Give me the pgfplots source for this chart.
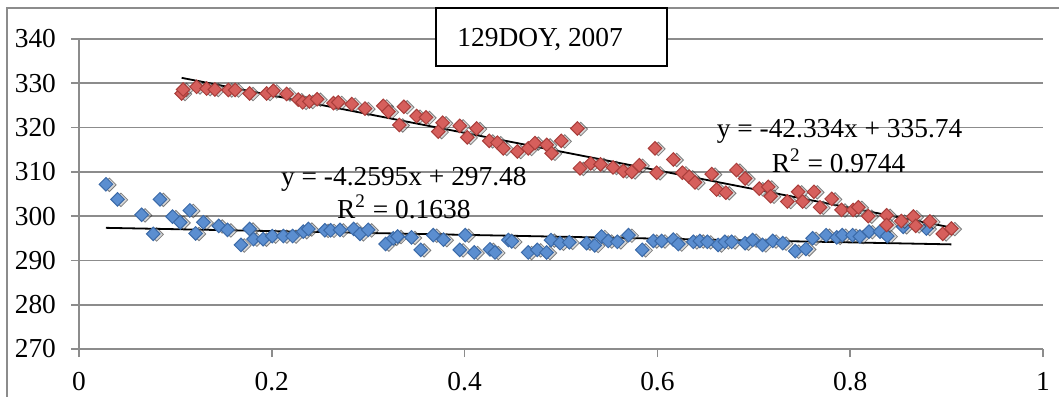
\documentclass[border=0pt]{standalone}
\usepackage{fontspec}
\setmainfont{Liberation Serif}
\usepackage{pgfplots}
\pgfplotsset{compat=1.18}
\definecolor{bluefill}{HTML}{5B8ED0}
\definecolor{blueedge}{HTML}{3B6AA8}
\definecolor{redfill}{HTML}{D65F5C}
\definecolor{rededge}{HTML}{A93D3A}
\definecolor{gridgray}{HTML}{8C8C8C}
\pgfplotstableread{
x y
0.028 307.2
0.040 303.8
0.065 300.3
0.077 296.0
0.084 303.8
0.097 299.9
0.105 298.6
0.115 301.3
0.121 296.1
0.129 298.6
0.145 297.8
0.154 296.9
0.168 293.5
0.177 297.1
0.181 294.8
0.191 294.8
0.2005 295.5
0.212 295.5
0.2216 295.5
0.2327 296.5
0.238 297.1
0.255 296.8
0.261 296.8
0.2707 296.9
0.285 297.1
0.2915 296.0
0.300 296.9
0.318 293.7
0.326 295.0
0.3305 295.4
0.345 295.2
0.3545 292.4
0.3675 295.7
0.378 294.7
0.395 292.4
0.4007 295.7
0.410 291.8
0.4263 292.5
0.4315 291.8
0.4454 294.6
0.449 294.3
0.466 291.8
0.4754 292.4
0.485 291.8
0.4896 294.6
0.499 293.9
0.5086 294.1
0.5266 293.9
0.535 293.4
0.542 295.4
0.549 294.4
0.5585 294.2
0.570 295.7
0.5843 292.4
0.5958 294.4
0.6044 294.4
0.6165 294.7
0.6217 293.7
0.6373 294.2
0.644 294.4
0.6518 294.2
0.663 293.5
0.670 294.2
0.677 294.2
0.691 293.9
0.6988 294.6
0.709 293.5
0.7196 294.4
0.730 293.9
0.743 292.1
0.754 292.6
0.761 295.0
0.775 295.7
0.786 295.2
0.7918 295.7
0.8025 295.7
0.810 295.4
0.8195 296.5
0.831 296.5
0.8385 295.5
0.855 297.6
0.879 297.2
}\bluedata
\pgfplotstableread{
x y
0.1065 327.7
0.108 328.6
0.122 329.2
0.1324 328.8
0.141 328.6
0.155 328.5
0.162 328.5
0.177 327.7
0.1947 327.7
0.2016 328.3
0.2154 327.6
0.2275 326.3
0.232 325.7
0.239 325.9
0.247 326.4
0.264 325.5
0.269 325.7
0.283 325.3
0.2967 324.3
0.3157 324.9
0.321 323.6
0.3323 320.6
0.337 324.7
0.3502 322.6
0.360 322.3
0.3727 319.1
0.3772 321.1
0.395 320.4
0.4028 317.8
0.4125 319.8
0.4256 317.0
0.434 316.6
0.4402 315.3
0.4547 314.6
0.466 315.3
0.473 316.5
0.4852 316.1
0.4903 314.2
0.5003 317.0
0.517 319.8
0.5197 310.8
0.5308 311.9
0.541 311.7
0.554 311.0
0.5646 310.2
0.5733 310.0
0.5812 311.5
0.5975 315.3
0.5993 309.8
0.6165 312.8
0.626 309.8
0.633 308.9
0.639 307.6
0.6563 309.5
0.6614 306.0
0.671 305.3
0.682 310.4
0.691 308.5
0.7057 306.2
0.715 306.6
0.7175 304.5
0.7348 303.3
0.746 305.5
0.7507 303.3
0.7624 305.5
0.7687 302.0
0.7808 303.9
0.791 301.4
0.803 301.4
0.8085 302.0
0.8188 300.0
0.8378 300.2
0.8378 298.0
0.853 298.9
0.8655 299.9
0.868 297.8
0.8827 298.8
0.896 296.0
0.905 297.2
}\reddata
\begin{document}
\begin{tikzpicture}
\useasboundingbox (-39.5pt,-23.5pt) rectangle (490pt,174.5pt);
% outer chart frame
\draw[gridgray, line width=0.8pt] (-36pt,-26pt) rectangle (493pt,170.5pt);
\begin{axis}[
  scale only axis, width=482pt, height=155pt,
  xmin=0, xmax=1, ymin=270, ymax=340,
  xtick={0,0.2,0.4,0.6,0.8,1},
  ytick={270,280,290,300,310,320,330,340},
  axis lines*=left,
  axis line style={gridgray, line width=0.8pt},
  ymajorgrids, grid style={gridgray, line width=0.8pt},
  tick style={gridgray, line width=0.8pt},
  tick align=outside, major tick length=4pt,
  /pgf/number format/assume math mode=true,
  tick label style={font=\fontsize{13.7}{16}\selectfont},
  yticklabel style={xshift=-4pt},
  xticklabel style={yshift=-4pt},
  clip=false,
]
% soft shadows under the markers
\pgfplotsset{shadow/.style={only marks, mark=square*, mark size=2.4pt,
  mark options={rotate=45, xshift=1pt, yshift=-1.4pt, fill=black!35, draw=none, opacity=0.45}}}
\addplot[shadow] table {\bluedata};
\addplot[only marks, mark=square*, mark size=2.4pt,
  mark options={rotate=45, fill=bluefill, draw=blueedge, line width=0.5pt}] table {\bluedata};
\addplot[shadow] table {\reddata};
\addplot[only marks, mark=square*, mark size=2.4pt,
  mark options={rotate=45, fill=redfill, draw=rededge, line width=0.5pt}] table {\reddata};
% linear trendlines: y = -4.2595x + 297.48 and y = -42.334x + 335.74
\addplot[black, line width=0.9pt] coordinates {(0.028,297.361) (0.905,293.625)};
\addplot[black, line width=0.9pt] coordinates {(0.1065,331.231) (0.905,297.428)};
\node[font=\fontsize{13.7}{16}\selectfont] at (axis cs:0.337,308.4) {y = -4.2595x + 297.48};
\node[font=\fontsize{13.7}{16}\selectfont] at (axis cs:0.337,302.1) {R\textsuperscript{2} = 0.1638};
\node[font=\fontsize{13.7}{16}\selectfont] at (axis cs:0.789,319.2) {y = -42.334x + 335.74};
\node[font=\fontsize{13.7}{16}\selectfont] at (axis cs:0.788,312.45) {R\textsuperscript{2} = 0.9744};
\end{axis}
% title box
\draw[black, fill=white, line width=0.8pt] (178.5pt,141.5pt) rectangle (294pt,170.5pt);
\node[anchor=west, inner sep=0pt, font=\fontsize{13.7}{16}\selectfont] at (189pt,154.5pt) {129DOY, 2007};
\end{tikzpicture}
\end{document}
